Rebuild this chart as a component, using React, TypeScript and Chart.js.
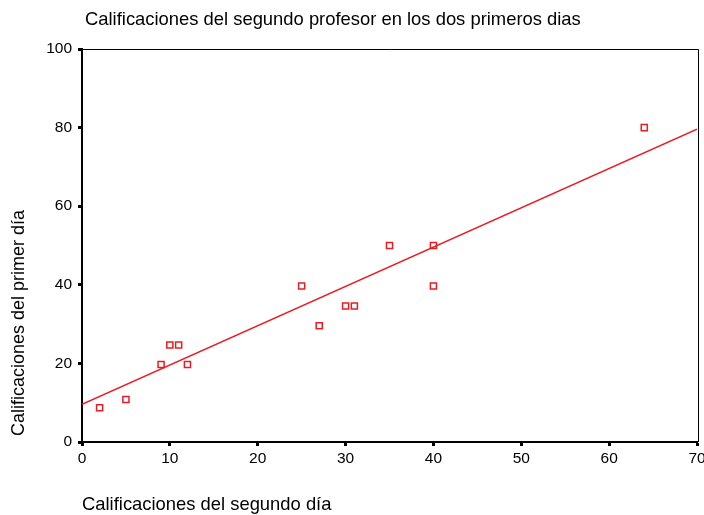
import React, { useEffect, useRef } from "react";
import { Chart, registerables } from "chart.js";

Chart.register(...registerables);

// Scores: second day (x) vs first day (y)
const secondDay = [2, 5, 9, 10, 11, 12, 25, 27, 30, 31, 35, 40, 40, 64];
const firstDay = [8.7, 10.8, 19.7, 24.7, 24.7, 19.7, 39.7, 29.6, 34.6, 34.6, 50, 50, 39.7, 80];

// Fitted line (first day = intercept + slope * second day)
const fitIntercept = 9.6;
const fitSlope = 1.0;

const xTicks = [0, 10, 20, 30, 40, 50, 60, 70];
const yTicks = [0, 20, 40, 60, 80, 100];

const chartTitle = "Calificaciones del segundo profesor en los dos primeros dias";
const xTitle = "Calificaciones del segundo día";
const yTitle = "Calificaciones del primer día";

const RED = "rgb(232, 28, 36)";
const FONT = "'Liberation Sans', Arial, sans-serif";

const labelsPlugin = {
  id: "labels",
  afterDraw(chart: any) {
    const { ctx, chartArea } = chart;
    ctx.save();
    // thin frame on top and right
    ctx.strokeStyle = "#000";
    ctx.lineWidth = 1;
    ctx.beginPath();
    ctx.moveTo(chartArea.left, chartArea.top + 0.5);
    ctx.lineTo(chartArea.right + 1.5, chartArea.top + 0.5);
    ctx.lineTo(chartArea.right + 1.5, chartArea.bottom);
    ctx.stroke();

    ctx.fillStyle = "#000";
    ctx.font = `18.4px ${FONT}`;
    ctx.textBaseline = "middle";
    ctx.textAlign = "left";
    ctx.fillText(chartTitle, 85, 20);
    ctx.fillText(xTitle, 82, 505);

    ctx.font = `18px ${FONT}`;
    ctx.translate(19, 323);
    ctx.rotate(-Math.PI / 2);
    ctx.textAlign = "center";
    ctx.fillText(yTitle, 0, 0);
    ctx.restore();
  },
};

export default function App() {
  const canvasRef = useRef<HTMLCanvasElement | null>(null);

  useEffect(() => {
    const canvas = canvasRef.current;
    if (!canvas) return;

    const points = secondDay.map((x, i) => ({ x, y: firstDay[i] }));
    const fitLine = [0, 70].map((x) => ({ x, y: fitIntercept + fitSlope * x }));

    const chart = new Chart(canvas, {
      type: "scatter",
      data: {
        datasets: [
          {
            type: "line",
            data: fitLine,
            borderColor: RED,
            borderWidth: 1.5,
            pointRadius: 0,
            fill: false,
          } as any,
          {
            data: points,
            pointStyle: "rect",
            pointRadius: 4.3,
            pointBorderWidth: 1.5,
            pointBorderColor: RED,
            pointBackgroundColor: "#fff",
          },
        ],
      },
      options: {
        animation: false,
        responsive: false,
        devicePixelRatio: 1,
        events: [],
        layout: { padding: { left: 0, top: 49, right: 7, bottom: 43 } },
        plugins: {
          legend: { display: false },
          title: { display: false },
          tooltip: { enabled: false },
        },
        scales: {
          x: {
            type: "linear",
            min: 0,
            max: 70,
            afterBuildTicks(scale: any) {
              scale.ticks = xTicks.map((v) => ({ value: v }));
            },
            afterFit(scale: any) {
              scale.height = 30;
              scale.paddingLeft = 0;
              scale.paddingRight = 0;
            },
            ticks: {
              color: "#000",
              font: { family: FONT, size: 15.5 },
              padding: 3,
              maxRotation: 0,
              autoSkip: false,
            },
            grid: {
              drawOnChartArea: false,
              drawTicks: true,
              tickLength: 4,
              tickWidth: 3,
              tickColor: "#000",
            },
            border: { display: true, color: "#000", width: 2 },
          },
          y: {
            type: "linear",
            min: 0,
            max: 100,
            afterBuildTicks(scale: any) {
              scale.ticks = yTicks.map((v) => ({ value: v }));
            },
            afterFit(scale: any) {
              scale.width = 82;
            },
            ticks: {
              color: "#000",
              font: { family: FONT, size: 15.5 },
              padding: 6,
              autoSkip: false,
            },
            grid: {
              drawOnChartArea: false,
              drawTicks: true,
              tickLength: 4,
              tickWidth: 3,
              tickColor: "#000",
            },
            border: { display: true, color: "#000", width: 2 },
          },
        },
      },
      plugins: [labelsPlugin],
    });

    return () => chart.destroy();
  }, []);

  return (
    <div style={{ position: "fixed", left: 0, top: 0, width: 704, height: 515, background: "#fff" }}>
      <canvas ref={canvasRef} width={704} height={515} style={{ display: "block", width: 704, height: 515 }} />
    </div>
  );
}
